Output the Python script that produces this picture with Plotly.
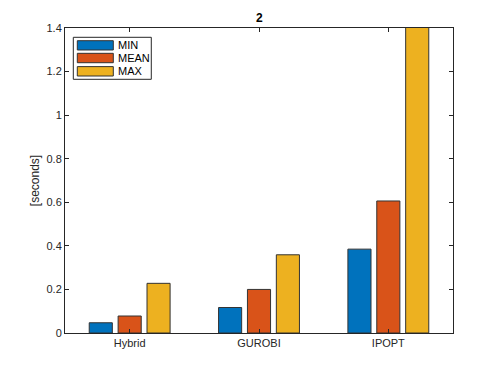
import plotly.graph_objects as go

solvers = ['Hybrid', 'GUROBI', 'IPOPT']
series_names = ['MIN', 'MEAN', 'MAX']
t_min = [0.047, 0.117, 0.385]
t_mean = [0.078, 0.200, 0.606]
t_max = [0.228, 0.359, 1.95]

colors = ['#0072BD', '#D95319', '#EDB120']
edge = '#333333'

fig = go.Figure()
for name, vals, col in zip(series_names, [t_min, t_mean, t_max], colors):
    fig.add_trace(go.Bar(
        x=[1, 2, 3], y=vals, name=name, showlegend=False,
        marker=dict(color=col, line=dict(color=edge, width=1)),
    ))

# MATLAB style legend box drawn by hand (wide swatches, tight rows)
fig.add_shape(type='rect', xref='paper', yref='paper',
              x0=0.0214, x1=0.2224, y0=0.8318, y1=0.9695,
              line=dict(color='#262626', width=1), fillcolor='white')
sw_rows = [(0.9279, 0.9584), (0.8862, 0.9170), (0.8426, 0.8734)]
for name, col, (y0, y1) in zip(series_names, colors, sw_rows):
    fig.add_shape(type='rect', xref='paper', yref='paper',
                  x0=0.0317, x1=0.1245, y0=y0, y1=y1,
                  line=dict(color=edge, width=1), fillcolor=col)
    fig.add_annotation(xref='paper', yref='paper', x=0.1314, y=(y0 + y1) / 2,
                       text=name, showarrow=False, xanchor='left', yanchor='middle',
                       font=dict(size=11, color='black'))

# title
fig.add_annotation(xref='paper', yref='paper', x=0.5, y=1.033, text='<b>2</b>',
                   showarrow=False, xanchor='center', yanchor='middle',
                   font=dict(size=12, color='black'))

axis_common = dict(
    showline=True, linecolor='#262626', linewidth=1, mirror='ticks',
    ticks='inside', ticklen=4, tickcolor='#262626', showgrid=False,
    zeroline=False, tickfont=dict(size=11, color='#262626'),
)

fig.update_layout(
    width=490, height=366,
    margin=dict(l=57, r=45, t=20, b=41),
    paper_bgcolor='white', plot_bgcolor='white',
    font=dict(family='Liberation Sans, Arial, sans-serif', size=11, color='#262626'),
    barmode='group', bargap=0.33, bargroupgap=0.2,
    showlegend=False,
    xaxis=dict(range=[0.5, 3.5], tickvals=[1, 2, 3], ticktext=solvers, **axis_common),
    yaxis=dict(range=[0, 1.4], tickvals=[0, 0.2, 0.4, 0.6, 0.8, 1, 1.2, 1.4],
               ticktext=['0', '0.2', '0.4', '0.6', '0.8', '1', '1.2', '1.4'],
               title=dict(text='[seconds]', font=dict(size=12), standoff=4),
               **axis_common),
)

fig.write_html('out.html')
